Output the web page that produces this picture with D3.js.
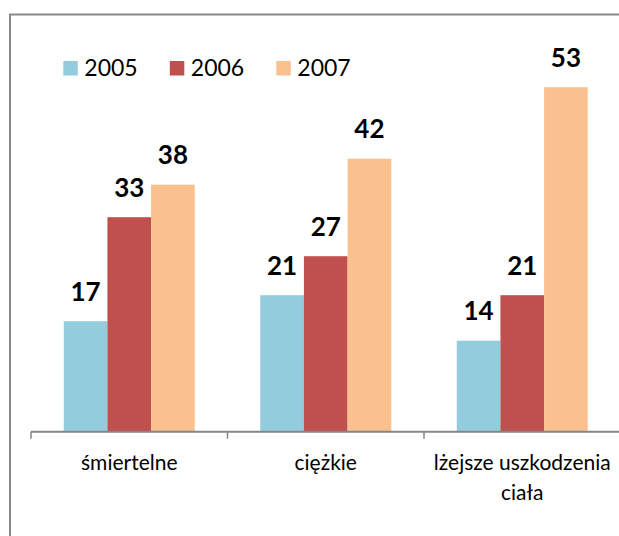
<!DOCTYPE html>
<html>
<head>
<meta charset="utf-8">
<script src="https://cdn.jsdelivr.net/npm/d3@7"></script>
<style>
  html, body { margin: 0; padding: 0; background: #fff; }
  svg { display: block; font-family: Lato, "Open Sans", sans-serif; }
</style>
</head>
<body>
<div id="chart"></div>
<script>
const categories = ["śmiertelne", "ciężkie", "lżejsze uszkodzenia ciała"];
const years = ["2005", "2006", "2007"];
const values2005 = [17, 21, 14];
const values2006 = [33, 27, 21];
const values2007 = [38, 42, 53];
const colors = ["#93CDDD", "#C0504D", "#FAC090"];

const width = 619, height = 536;
const seriesValues = [values2005, values2006, values2007];

const svg = d3.select("#chart").append("svg")
    .attr("width", width)
    .attr("height", height);

// outer frame, runs off the right and bottom edges
svg.append("rect")
    .attr("x", 10).attr("y", 14.5)
    .attr("width", 640).attr("height", 560)
    .attr("fill", "none")
    .attr("stroke", "#888")
    .attr("stroke-width", 2);

const baseY = 431.7;
const y = d3.scaleLinear().domain([0, 60]).range([baseY, baseY - 390]);

const x0 = d3.scaleBand().domain(categories).range([31, 620.5]);
const x1 = d3.scaleBand().domain(years).range([0, x0.bandwidth()])
    .paddingInner(0).paddingOuter(0.75);

const data = [];
categories.forEach((c, i) => {
    years.forEach((yr, j) => {
        data.push({ cat: c, year: yr, value: seriesValues[j][i], color: colors[j] });
    });
});

svg.append("g").selectAll("rect")
    .data(data)
    .enter()
    .append("rect")
    .attr("x", d => x0(d.cat) + x1(d.year))
    .attr("y", d => y(d.value))
    .attr("width", x1.bandwidth())
    .attr("height", d => baseY - y(d.value))
    .attr("fill", d => d.color);

svg.append("g").selectAll("text")
    .data(data)
    .enter()
    .append("text")
    .attr("x", d => x0(d.cat) + x1(d.year) + x1.bandwidth() / 2)
    .attr("y", d => y(d.value) - 20.5)
    .attr("text-anchor", "middle")
    .attr("font-size", 26)
    .attr("font-weight", "bold")
    .attr("fill", "#000")
    .text(d => d.value);

// category axis
const axis = svg.append("g").attr("stroke", "#868686");
axis.append("line")
    .attr("x1", x0.range()[0]).attr("x2", x0.range()[1])
    .attr("y1", baseY).attr("y2", baseY)
    .attr("stroke-width", 2);
axis.selectAll("line.tick")
    .data(categories)
    .enter()
    .append("line")
    .attr("class", "tick")
    .attr("x1", d => x0(d)).attr("x2", d => x0(d))
    .attr("y1", baseY).attr("y2", baseY + 7)
    .attr("stroke-width", 1.5);

function wrap(text, maxWidth) {
    text.each(function () {
        const t = d3.select(this);
        const words = t.text().split(" ");
        const xPos = t.attr("x");
        const lineH = 30;
        t.text(null);
        let line = [];
        let tspan = t.append("tspan").attr("x", xPos).attr("dy", 0);
        words.forEach(w => {
            line.push(w);
            tspan.text(line.join(" "));
            if (tspan.node().getComputedTextLength() > maxWidth && line.length > 1) {
                line.pop();
                tspan.text(line.join(" "));
                line = [w];
                tspan = t.append("tspan").attr("x", xPos).attr("dy", lineH).text(w);
            }
        });
    });
}

svg.append("g").selectAll("text")
    .data(categories)
    .enter()
    .append("text")
    .attr("x", d => x0(d) + x0.bandwidth() / 2)
    .attr("y", 470)
    .attr("text-anchor", "middle")
    .attr("font-size", 21)
    .attr("fill", "#000")
    .text(d => d)
    .call(wrap, 190);

// legend
const legend = svg.append("g").selectAll("g")
    .data(years)
    .enter()
    .append("g")
    .attr("transform", (d, i) => "translate(" + (63.3 + i * 106.5) + ",61)");
legend.append("rect")
    .attr("width", 14.5).attr("height", 14.5)
    .attr("fill", (d, i) => colors[i]);
legend.append("text")
    .attr("x", 21).attr("y", 15)
    .attr("font-size", 23)
    .attr("fill", "#000")
    .text(d => d);
</script>
</body>
</html>
